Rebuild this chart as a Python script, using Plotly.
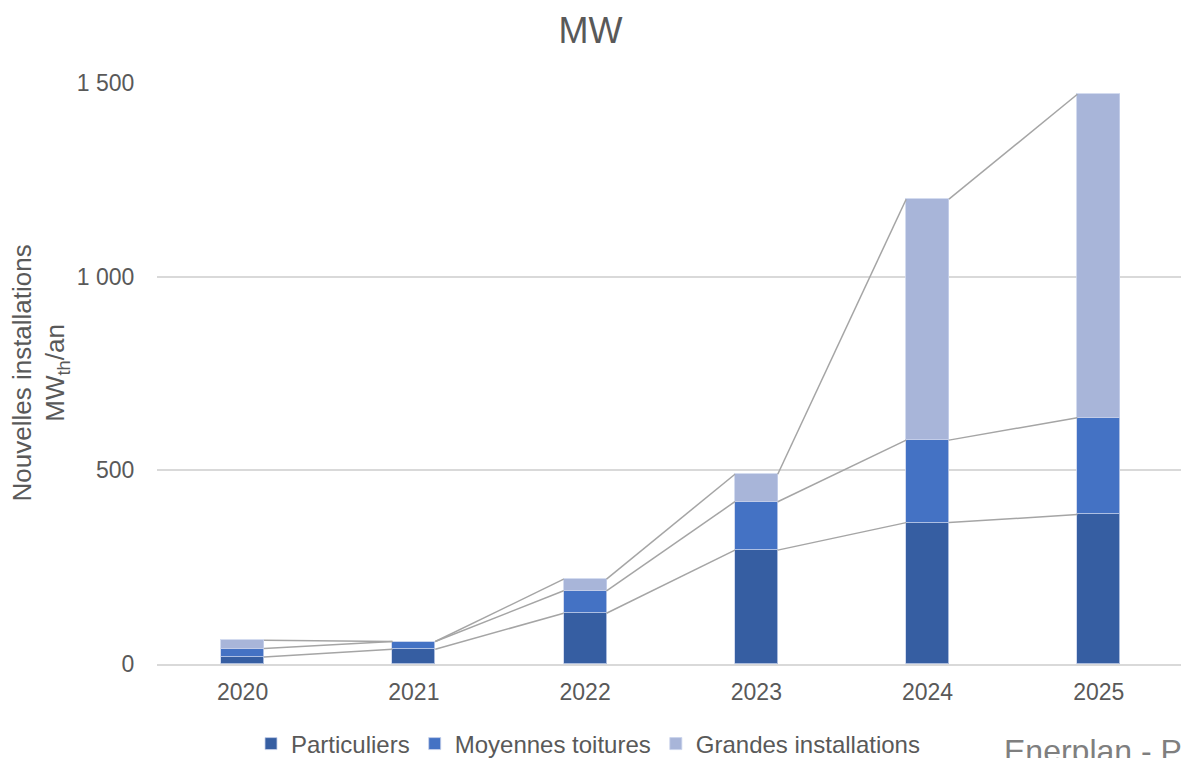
import plotly.graph_objects as go

years = ["2020", "2021", "2022", "2023", "2024", "2025"]
particuliers = [18, 38, 131, 294, 365, 386]
moyennes = [22, 20, 58, 125, 213, 250]
grandes = [21, 0, 30, 71, 622, 835]

series_names = ["Particuliers", "Moyennes toitures", "Grandes installations"]
colors = ["#365EA2", "#4472C4", "#A8B5D9"]
yticks = [0, 500, 1000, 1500]
yticklabels = ["0", "500", "1 000", "1 500"]

bar_w = 0.25
xs = list(range(len(years)))

fig = go.Figure()

# series lines (connect tops of stacks between consecutive bars)
cum = [0] * len(years)
levels = []
for vals in (particuliers, moyennes, grandes):
    cum = [c + v for c, v in zip(cum, vals)]
    levels.append(cum[:])

for lvl in levels:
    lx, ly = [], []
    for i in range(len(years) - 1):
        lx += [xs[i] + bar_w / 2, xs[i + 1] - bar_w / 2, None]
        ly += [lvl[i], lvl[i + 1], None]
    fig.add_trace(go.Scatter(x=lx, y=ly, mode="lines",
                             line=dict(color="#A5A5A5", width=1.5),
                             showlegend=False, hoverinfo="skip"))

for name, vals, col in zip(series_names, (particuliers, moyennes, grandes), colors):
    fig.add_trace(go.Bar(x=xs, y=vals, name=name, width=bar_w,
                         marker=dict(color=col, line=dict(color="rgba(200,210,235,0.8)", width=1))))

H = 790
fig.update_layout(
    barmode="stack",
    width=1181, height=H,
    paper_bgcolor="white", plot_bgcolor="white",
    font=dict(family="Liberation Sans, Arial, sans-serif", color="#595959", size=23),
    margin=dict(l=157, r=0, t=83, b=H - 664),
    title=dict(text="MW", x=0.5, xanchor="center", y=1 - 30 / H, yanchor="middle",
               font=dict(size=36, color="#595959")),
    xaxis=dict(range=[-0.5, 5.48], tickvals=xs, ticktext=years, showgrid=False,
               showline=True, linecolor="#D9D9D9", linewidth=1.5,
               ticks="outside", ticklen=7, tickcolor="rgba(0,0,0,0)",
               tickfont=dict(size=23, color="#595959"), zeroline=False),
    yaxis=dict(range=[0, 1500], tickvals=yticks, ticktext=yticklabels,
               showgrid=True, gridcolor="#D9D9D9", gridwidth=1.5, zeroline=False,
               ticks="outside", ticklen=17, tickcolor="rgba(0,0,0,0)",
               tickfont=dict(size=23, color="#595959"), showline=False),
    legend=dict(orientation="h", x=(588 - 157) / 1024, xanchor="center",
                y=(664 - 744) / 581, yanchor="middle",
                font=dict(size=24, color="#595959"), itemwidth=30, traceorder="normal",
                bgcolor="rgba(0,0,0,0)"),
    bargap=0,
)

fig.add_annotation(text="Nouvelles installations<br>MW<sub>th</sub>/an", textangle=-90,
                   xref="paper", yref="paper", x=(40 - 157) / 1024, y=0.5, xanchor="center",
                   yanchor="middle", showarrow=False,
                   font=dict(size=26, color="#595959"))

fig.add_annotation(text="Enerplan - P", xref="paper", yref="paper",
                   x=(1002 - 157) / 1024, y=(664 - 731) / 581, xanchor="left", yanchor="top",
                   showarrow=False, font=dict(size=32, color="#7F7F7F"))

fig.write_html("out.html", config={"displayModeBar": False},
               post_script="document.body.style.margin='0';document.body.style.padding='0';document.body.style.overflow='hidden';")
